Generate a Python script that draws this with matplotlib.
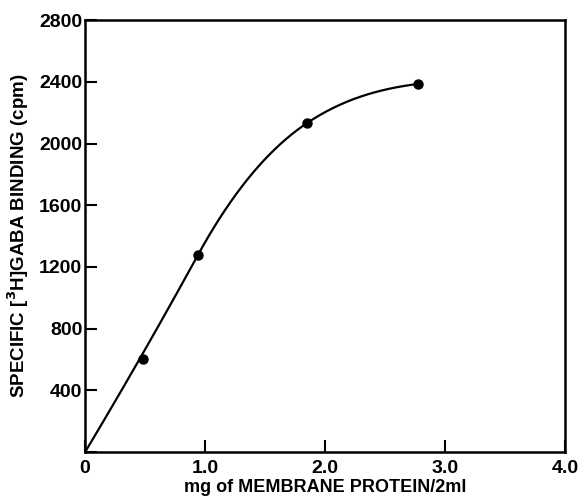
import numpy as np
import matplotlib
matplotlib.use("Agg")
import matplotlib.pyplot as plt

# data
protein_mg = [0.48, 0.94, 1.85, 2.77]          # mg membrane protein / 2 ml
binding_cpm = [603, 1277, 2133, 2386]          # specific [3H]GABA binding (cpm)

# hand-drawn curve: knots and slopes (starts at origin)
curve_x = [0.0, 0.94, 1.85, 2.77]
curve_y = [0, 1277, 2133, 2386]
curve_slope = [1300, 1420, 520, 100]

x_ticks = [0, 1.0, 2.0, 3.0, 4.0]
x_labels = ["0", "1.0", "2.0", "3.0", "4.0"]
y_ticks = [0, 400, 800, 1200, 1600, 2000, 2400, 2800]
y_labels = ["", "400", "800", "1200", "1600", "2000", "2400", "2800"]

plt.rcParams["font.family"] = ["Liberation Sans", "DejaVu Sans"]


def hermite(x, y, m, n=80):
    xs, ys = [], []
    for k in range(len(x) - 1):
        h = x[k + 1] - x[k]
        t = np.linspace(0, 1, n)
        h00 = 2 * t**3 - 3 * t**2 + 1
        h10 = t**3 - 2 * t**2 + t
        h01 = -2 * t**3 + 3 * t**2
        h11 = t**3 - t**2
        xs.append(x[k] + t * h)
        ys.append(h00 * y[k] + h10 * h * m[k] + h01 * y[k + 1] + h11 * h * m[k + 1])
    return np.concatenate(xs), np.concatenate(ys)


fig = plt.figure(figsize=(5.79, 4.97), dpi=100)
ax = fig.add_axes([0.147, 0.0905, 0.829, 0.869])

cx, cy = hermite(curve_x, curve_y, curve_slope)
ax.plot(cx, cy, color="black", lw=1.6)
ax.plot(protein_mg, binding_cpm, "o", color="black", ms=6.5)

ax.set_xlim(0, 4.0)
ax.set_ylim(0, 2800)
ax.set_xticks(x_ticks)
ax.set_xticklabels(x_labels)
ax.set_yticks(y_ticks)
ax.set_yticklabels(y_labels)

for s in ax.spines.values():
    s.set_linewidth(1.8)
ax.tick_params(direction="in", length=8.5, width=1.5, labelsize=14)
ax.tick_params(axis="x", pad=6)
ax.tick_params(axis="y", pad=2)
for lab in ax.get_xticklabels() + ax.get_yticklabels():
    lab.set_fontweight("bold")

ax.set_xlabel("mg of MEMBRANE PROTEIN/2ml", fontsize=13, fontweight="bold", labelpad=1)
ax.set_ylabel(r"SPECIFIC [$^{\mathbf{3}}$H]GABA BINDING (cpm)", fontsize=13.5,
              fontweight="bold")
ax.yaxis.set_label_coords(-0.113, 0.5)

fig.savefig("out.png", dpi=100)
